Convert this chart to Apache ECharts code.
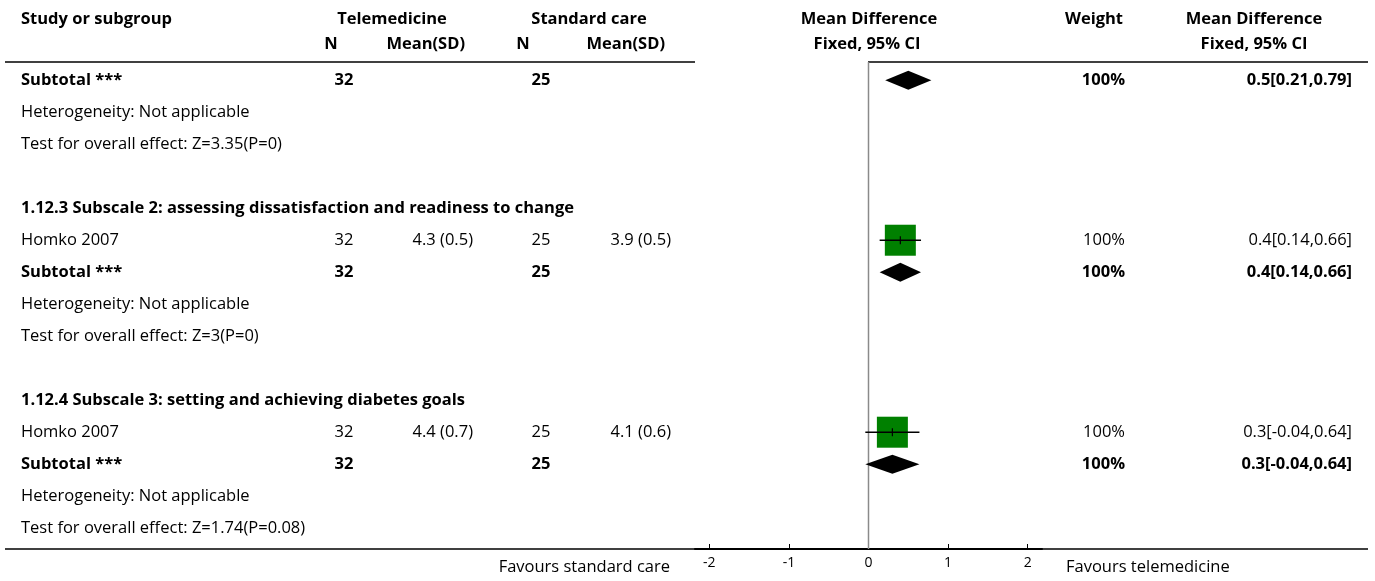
<!DOCTYPE html>
<html><head><meta charset="utf-8">
<script src="https://cdn.jsdelivr.net/npm/echarts@6/dist/echarts.min.js"></script>
<style>html,body{margin:0;padding:0;background:#fff}#c{width:1375px;height:581px}</style>
</head><body><div id="c"></div><script>
// ---- data ----
const rowLabels = [
  'Subtotal ***',
  'Heterogeneity: Not applicable',
  'Test for overall effect: Z=3.35(P=0)',
  '',
  '1.12.3 Subscale 2: assessing dissatisfaction and readiness to change',
  'Homko 2007',
  'Subtotal ***',
  'Heterogeneity: Not applicable',
  'Test for overall effect: Z=3(P=0)',
  '',
  '1.12.4 Subscale 3: setting and achieving diabetes goals',
  'Homko 2007',
  'Subtotal ***',
  'Heterogeneity: Not applicable',
  'Test for overall effect: Z=1.74(P=0.08)'
];
const rowBold   = [1,0,0,0,1,0,1,0,0,0,1,0,1,0,0];
const telN      = ['32','','','','','32','32','','','','','32','32','',''];
const telMeanSD = ['','','','','','4.3 (0.5)','','','','','','4.4 (0.7)','','',''];
const stdN      = ['25','','','','','25','25','','','','','25','25','',''];
const stdMeanSD = ['','','','','','3.9 (0.5)','','','','','','4.1 (0.6)','','',''];
const weightTxt = ['100%','','','','','100%','100%','','','','','100%','100%','',''];
const mdTxt     = ['0.5[0.21,0.79]','','','','','0.4[0.14,0.66]','0.4[0.14,0.66]','','','','','0.3[-0.04,0.64]','0.3[-0.04,0.64]','',''];

const studyRows   = [5, 11];
const studyMD     = [0.4, 0.3];
const studyLo     = [0.14, -0.04];
const studyHi     = [0.66, 0.64];
const studyWeight = [100, 100];

const subRows = [0, 6, 12];
const subMD   = [0.5, 0.4, 0.3];
const subLo   = [0.21, 0.14, -0.04];
const subHi   = [0.79, 0.66, 0.64];

const xTicks = [-2, -1, 0, 1, 2];
const headerTop = ['Study or subgroup', 'Telemedicine', 'Standard care', 'Mean Difference', 'Weight', 'Mean Difference'];
const headerSub = ['N', 'Mean(SD)', 'N', 'Mean(SD)', 'Fixed, 95% CI', 'Fixed, 95% CI'];
const favours = ['Favours standard care', 'Favours telemedicine'];

// ---- rendering ----
const FONT = '"Open Sans", "Noto Sans", sans-serif';
const FS = 16.5;
const Y_MIN = -0.57, Y_MAX = 14.65;
const chart = echarts.init(document.getElementById('c'), null, {renderer: 'canvas'});

function txt(t, x, y, align, bold, size) {
  return {type: 'text', silent: true, style: {text: t, x: x, y: y, align: align, verticalAlign: 'middle',
    fill: '#000', font: (bold ? 'bold ' : '') + (size || FS) + 'px ' + FONT}};
}

const tableCols = [
  {arr: telN, x: 344, align: 'center'},
  {arr: telMeanSD, x: 473, align: 'right'},
  {arr: stdN, x: 541, align: 'center'},
  {arr: stdMeanSD, x: 671, align: 'right'},
  {arr: weightTxt, x: 1125, align: 'right'},
  {arr: mdTxt, x: 1352, align: 'right'}
];

const option = {
  animation: false,
  grid: {left: 695, top: 62, width: 347, height: 487, containLabel: false},
  xAxis: {
    type: 'value', min: -2.18, max: 2.18,
    axisLine: {show: true, onZero: false, lineStyle: {color: '#000', width: 2}},
    axisTick: {show: true, inside: true, length: 5, customValues: xTicks, lineStyle: {color: '#000', width: 1}},
    axisLabel: {customValues: xTicks, color: '#000', fontSize: 14, fontFamily: FONT, margin: 7},
    splitLine: {show: false}
  },
  yAxis: {type: 'value', inverse: true, min: Y_MIN, max: Y_MAX, show: false},
  graphic: [
    {type: 'line', shape: {x1: 5, y1: 62, x2: 695, y2: 62}, style: {stroke: '#000', lineWidth: 1.5}},
    {type: 'line', shape: {x1: 868, y1: 62, x2: 1368, y2: 62}, style: {stroke: '#000', lineWidth: 1.5}},
    {type: 'line', shape: {x1: 5, y1: 549, x2: 1368, y2: 549}, style: {stroke: '#000', lineWidth: 1.5}},
    txt(headerTop[0], 21, 19, 'left', true),
    txt(headerTop[1], 392, 19, 'center', true),
    txt(headerTop[2], 589, 19, 'center', true),
    txt(headerTop[3], 869, 19, 'center', true),
    txt(headerTop[4], 1123, 19, 'right', true),
    txt(headerTop[5], 1254, 19, 'center', true),
    txt(headerSub[0], 331, 44, 'center', true),
    txt(headerSub[1], 465, 44, 'right', true),
    txt(headerSub[2], 523, 44, 'center', true),
    txt(headerSub[3], 665, 44, 'right', true),
    txt(headerSub[4], 867, 44, 'center', true),
    txt(headerSub[5], 1254, 44, 'center', true),
    txt(favours[0], 670, 567, 'right', false),
    txt(favours[1], 1066, 567, 'left', false)
  ],
  series: [
    { // zero line
      type: 'custom', silent: true, clip: false, z: 1,
      data: [[0]],
      renderItem: function (params, api) {
        const a = api.coord([0, Y_MIN]), b = api.coord([0, Y_MAX]);
        return {type: 'line', shape: {x1: a[0], y1: a[1], x2: b[0], y2: b[1]},
          style: {stroke: '#8a8a8a', lineWidth: 1.5}};
      }
    },
    { // table text
      type: 'custom', silent: true, clip: false, z: 3,
      data: rowLabels.map((l, i) => [0, i]),
      renderItem: function (params, api) {
        const i = params.dataIndex;
        const y = api.coord([0, i])[1];
        const bold = !!rowBold[i];
        const ch = [txt(rowLabels[i], 21, y, 'left', bold)];
        tableCols.forEach(c => { if (c.arr[i]) ch.push(txt(c.arr[i], c.x, y, c.align, bold)); });
        return {type: 'group', children: ch};
      }
    },
    { // studies
      type: 'custom', silent: true, clip: false, z: 4,
      data: studyRows.map((r, i) => [studyMD[i], r, studyLo[i], studyHi[i], studyWeight[i]]),
      renderItem: function (params, api) {
        const md = api.value(0), r = api.value(1);
        const c = api.coord([md, r]);
        const lo = api.coord([api.value(2), r]), hi = api.coord([api.value(3), r]);
        const half = 15.5 * Math.sqrt(api.value(4) / 100);
        return {type: 'group', children: [
          {type: 'rect', shape: {x: c[0] - half, y: c[1] - half, width: half * 2, height: half * 2}, style: {fill: '#008000'}},
          {type: 'line', shape: {x1: lo[0], y1: c[1], x2: hi[0], y2: c[1]}, style: {stroke: '#000', lineWidth: 1.5}},
          {type: 'line', shape: {x1: c[0], y1: c[1] - 4, x2: c[0], y2: c[1] + 4}, style: {stroke: '#000', lineWidth: 1.2}}
        ]};
      }
    },
    { // subtotal diamonds
      type: 'custom', silent: true, clip: false, z: 4,
      data: subRows.map((r, i) => [subMD[i], r, subLo[i], subHi[i]]),
      renderItem: function (params, api) {
        const r = api.value(1);
        const c = api.coord([api.value(0), r]);
        const lo = api.coord([api.value(2), r]), hi = api.coord([api.value(3), r]);
        const h = 9.5;
        return {type: 'polygon', shape: {points: [[lo[0], c[1]], [c[0], c[1] - h], [hi[0], c[1]], [c[0], c[1] + h]]},
          style: {fill: '#000'}};
      }
    }
  ]
};
chart.setOption(option);
</script></body></html>
